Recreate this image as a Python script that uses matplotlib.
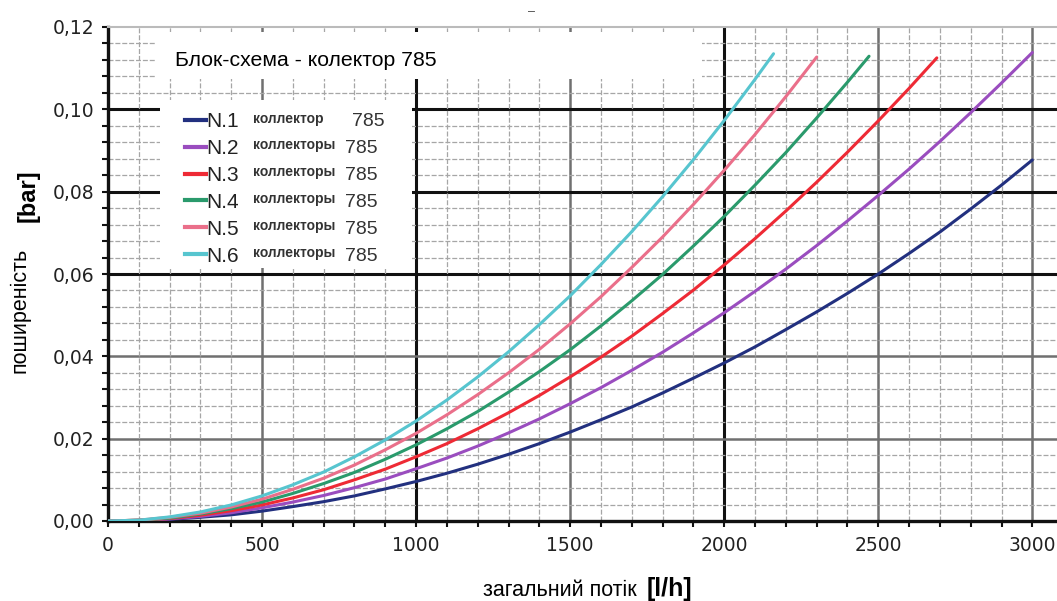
import numpy as np
import matplotlib
matplotlib.use("Agg")
from matplotlib import pyplot as plt
from matplotlib.patches import Rectangle
from matplotlib.lines import Line2D

plt.rcParams['font.family'] = ['Liberation Sans', 'DejaVu Sans']

# flow [l/h] and pressure drop [bar] (every 100 l/h, last point = end of curve)
flow_1 = list(range(0, 3001, 100))
dp_1 = [0, 0.0001, 0.0004, 0.0009, 0.0015, 0.0024, 0.0035, 0.0047, 0.0061, 0.0078,
        0.0096, 0.0116, 0.0138, 0.0162, 0.0188, 0.0216, 0.0246, 0.0277, 0.0311, 0.0347,
        0.0384, 0.0423, 0.0465, 0.0508, 0.0553, 0.0600, 0.0650, 0.0702, 0.0758, 0.0816,
        0.0877]

flow_2 = list(range(0, 3001, 100))
dp_2 = [0, 0.0001, 0.0005, 0.0011, 0.0020, 0.0032, 0.0046, 0.0062, 0.0081, 0.0102,
        0.0127, 0.0153, 0.0182, 0.0214, 0.0248, 0.0285, 0.0324, 0.0366, 0.0410, 0.0457,
        0.0506, 0.0558, 0.0612, 0.0669, 0.0729, 0.0791, 0.0855, 0.0922, 0.0992, 0.1064,
        0.1138]

flow_3 = list(range(0, 2601, 100)) + [2690]
dp_3 = [0, 0.0002, 0.0006, 0.0014, 0.0025, 0.0039, 0.0056, 0.0076, 0.0100, 0.0126,
        0.0156, 0.0188, 0.0224, 0.0263, 0.0305, 0.0350, 0.0398, 0.0449, 0.0504, 0.0561,
        0.0622, 0.0686, 0.0753, 0.0823, 0.0896, 0.0972, 0.1051, 0.1125]

flow_4 = list(range(0, 2401, 100)) + [2470]
dp_4 = [0, 0.0002, 0.0007, 0.0017, 0.0030, 0.0046, 0.0067, 0.0091, 0.0118, 0.0150,
        0.0185, 0.0224, 0.0266, 0.0313, 0.0363, 0.0416, 0.0474, 0.0535, 0.0599, 0.0668,
        0.0740, 0.0816, 0.0895, 0.0979, 0.1066, 0.1129]

flow_5 = list(range(0, 2301, 100))
dp_5 = [0, 0.0002, 0.0009, 0.0019, 0.0034, 0.0053, 0.0077, 0.0104, 0.0136, 0.0173,
        0.0213, 0.0258, 0.0307, 0.0360, 0.0417, 0.0479, 0.0545, 0.0616, 0.0690, 0.0769,
        0.0852, 0.0939, 0.1031, 0.1127]

flow_6 = list(range(0, 2101, 100)) + [2160]
dp_6 = [0, 0.0002, 0.0010, 0.0022, 0.0039, 0.0061, 0.0088, 0.0119, 0.0156, 0.0197,
        0.0243, 0.0294, 0.0350, 0.0411, 0.0477, 0.0547, 0.0623, 0.0703, 0.0788, 0.0878,
        0.0973, 0.1073, 0.1135]

series_names = ['N.1', 'N.2', 'N.3', 'N.4', 'N.5', 'N.6']
series_words = ['коллектор', 'коллекторы', 'коллекторы', 'коллекторы', 'коллекторы', 'коллекторы']
series_colors = ['#22307f', '#9a4dbf', '#ee2a35', '#2a9a6c', '#ea6f8a', '#57c5cf']

x_ticks = [0, 500, 1000, 1500, 2000, 2500, 3000]
y_ticks = [0.00, 0.02, 0.04, 0.06, 0.08, 0.10, 0.12]
y_tick_labels = ['0,00', '0,02', '0,04', '0,06', '0,08', '0,10', '0,12']

x_dark = [1000, 2000]
x_gray = [500, 1500, 2500, 3000]
y_dark = [0.06, 0.08, 0.10]
y_gray = [0.02, 0.04]

W, H = 1057, 601
fig = plt.figure(figsize=(W / 100, H / 100), dpi=100)
ax = fig.add_axes([108 / W, 1 - 521 / H, 949 / W, 494 / H])
ax.set_xlim(0, 3080)
ax.set_ylim(0, 0.12)

# grid
ax.set_xticks(x_ticks)
ax.set_xticks(np.arange(0, 3080, 100), minor=True)
ax.set_yticks(y_ticks)
ax.set_yticks(np.arange(0, 0.1201, 0.004), minor=True)
ax.set_yticklabels(y_tick_labels)
ax.grid(which='minor', color='#a6a6a6', lw=0.9, ls=(0, (4, 1.5)), zorder=0.5)
for v in x_gray:
    ax.axvline(v, color='#707070', lw=1.8, zorder=1)
for v in x_dark:
    ax.axvline(v, color='#111111', lw=2.2, zorder=1)
for v in y_gray:
    ax.axhline(v, color='#707070', lw=1.8, zorder=1)
for v in y_dark:
    ax.axhline(v, color='#111111', lw=2.2, zorder=1)

# spines and ticks
for s in ['left', 'bottom']:
    ax.spines[s].set_linewidth(2.4)
    ax.spines[s].set_color('#111111')
ax.spines['top'].set_color('#bbbbbb')
ax.spines['top'].set_linewidth(1.5)
ax.spines['right'].set_visible(False)
ax.tick_params(which='both', direction='out', length=4, width=1.5, color='#111111')
ax.tick_params(axis='y', which='major', pad=6, labelsize=13.5, labelcolor='#222222')
ax.tick_params(axis='x', which='major', pad=7, labelsize=13.5, labelcolor='#222222')
for lab in ax.get_xticklabels() + ax.get_yticklabels():
    lab.set_family('DejaVu Sans')

# white boxes for title and legend
ax.add_patch(Rectangle((0.0495, 0.895), 0.5765, 0.095, transform=ax.transAxes,
                       facecolor='white', edgecolor='none', zorder=2))
ax.add_patch(Rectangle((0.0548, 0.512), 0.2655, 0.340, transform=ax.transAxes,
                       facecolor='white', edgecolor='none', zorder=2))

flows = [flow_1, flow_2, flow_3, flow_4, flow_5, flow_6]
dps = [dp_1, dp_2, dp_3, dp_4, dp_5, dp_6]
handles = []
for f, d, c in zip(flows, dps, series_colors):
    ax.plot(f, d, color=c, lw=2.2, zorder=3, solid_capstyle='round')
    handles.append(Line2D([], [], color=c, lw=3))

ax.text(0.0706, 0.933, 'Блок-схема - колектор 785', transform=ax.transAxes,
        fontsize=15.3, ha='left', va='center', zorder=5)

leg = ax.legend(handles, series_names, loc='upper left', bbox_to_anchor=(0.081, 0.828),
                frameon=False, fontsize=15, handlelength=1.0, handletextpad=0.05,
                labelspacing=0.38, borderpad=0, borderaxespad=0)
leg.set_zorder(4)
for t in leg.get_texts():
    t.set_color('#222222')

fig.canvas.draw()
renderer = fig.canvas.get_renderer()
inv = ax.transAxes.inverted()
for i, t in enumerate(leg.get_texts()):
    bb = t.get_window_extent(renderer)
    ym = inv.transform((0, (bb.y0 + bb.y1) / 2))[1]
    ax.text(0.1528, ym + 0.006, series_words[i], transform=ax.transAxes,
            fontsize=10, fontweight='bold', ha='left', va='center', color='#333333', zorder=5)
    x785 = 0.257 if i == 0 else 0.2497
    ax.text(x785, ym, '785', transform=ax.transAxes, fontsize=14,
            ha='left', va='center', color='#333333', zorder=5)

# axis labels
fig.text(20 / W, 1 - 310 / H, 'поширеність', rotation=90, ha='center', va='center', fontsize=15.5)
fig.text(28 / W, 1 - 196 / H, '[bar]', rotation=90, ha='center', va='center',
         fontsize=17, fontweight='bold')
fig.text(483 / W, 1 - 591 / H, 'загальний потік', ha='left', va='center', fontsize=15.5)
fig.text(647 / W, 1 - 589 / H, '[l/h]', ha='left', va='center', fontsize=18, fontweight='bold')
fig.text(532 / W, 1 - 12 / H, '–', ha='center', va='center', fontsize=9, color='#444444')

fig.savefig('out.png', dpi=100)
